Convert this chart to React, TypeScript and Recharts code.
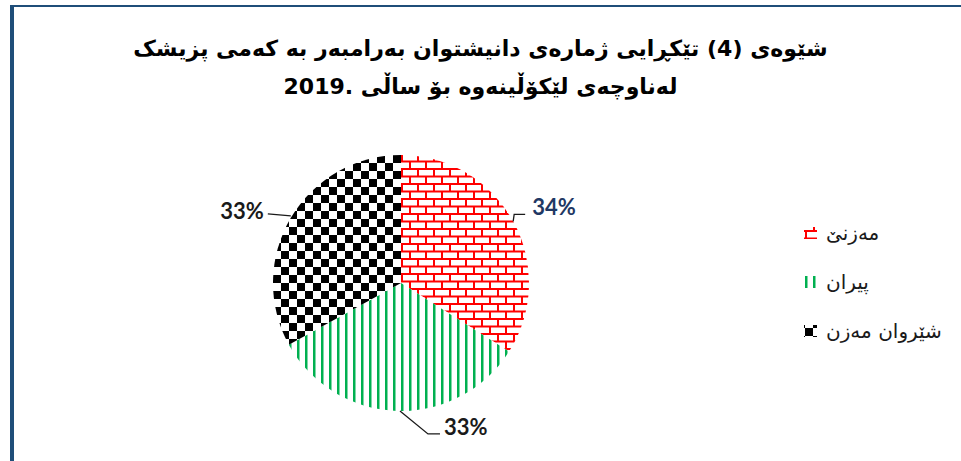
import React from 'react';
import { PieChart, Pie, Cell, Legend } from 'recharts';

const categories = ['مەزنێ', 'پیران', 'شێروان مەزن'];
const values = [34, 33, 33];
const titleLines = [
  'شێوەی (4) تێکڕایی ژمارەی دانیشتوان بەرامبەر بە کەمی پزیشک',
  'لەناوچەی لێکۆڵینەوە بۆ ساڵی \u20662019.\u2069',
];

const patternIds = ['pat-brick', 'pat-vert', 'pat-check'];
const labelColors = ['#1F3864', '#1a1a1a', '#1a1a1a'];

const data = categories.map((name, i) => ({ name, value: values[i] }));

const RAD = Math.PI / 180;

// leader-line layout per slice (relative to the slice's outer edge point)
const leaderLayout = [
  { pts: [[0, 0], [1, -7], [12, -7]], tx: 19, ty: -15, anchor: 'start' },
  { pts: [[3, 0], [31, 23], [43, 23]], tx: 47, ty: 16, anchor: 'start' },
  { pts: [[0, -2], [-23, -4]], tx: -27, ty: -7, anchor: 'end' },
];

const renderLabel = (props: any) => {
  const { cx, cy, midAngle, outerRadius, index, value } = props;
  const ex = cx + outerRadius * Math.cos(-midAngle * RAD);
  const ey = cy + outerRadius * Math.sin(-midAngle * RAD);
  const L = leaderLayout[index];
  const points = L.pts.map(([dx, dy]) => `${ex + dx},${ey + dy}`).join(' ');
  return (
    <g key={`lbl-${index}`}>
      <polyline points={points} fill="none" stroke="#1a1a1a" strokeWidth={1.3} />
      <text
        x={ex + L.tx}
        y={ey + L.ty}
        textAnchor={L.anchor}
        dominantBaseline="central"
        fill={labelColors[index]}
        style={{ fontFamily: 'Lato, "Open Sans", sans-serif', fontWeight: 700, fontSize: 22 }}
      >
        {`${value}%`}
      </text>
    </g>
  );
};

const renderLegend = () => (
  <div style={{ display: 'flex', flexDirection: 'column' }}>
    {categories.map((c, i) => (
      <div key={c} style={{ display: 'flex', alignItems: 'center', height: 49 }}>
        <svg width={13} height={12} style={{ display: 'block' }}>
          <rect x={0} y={0} width={13} height={12} fill={`url(#${patternIds[i]})`} />
        </svg>
        <span
          style={{
            marginLeft: 9,
            fontSize: 20,
            fontFamily: '"DejaVu Sans", sans-serif',
            color: '#1a1a1a',
            direction: 'rtl',
          }}
        >
          {c}
        </span>
      </div>
    ))}
  </div>
);

export default function App() {
  return (
    <div style={{ position: 'absolute', left: 0, top: 0, width: 961, height: 461, background: '#fff', overflow: 'hidden' }}>
      <div
        style={{
          position: 'absolute',
          left: 10,
          top: 5,
          width: 960,
          height: 470,
          borderTop: '2px solid #1F4E79',
          borderLeft: '4px solid #1F4E79',
          boxSizing: 'border-box',
        }}
      />
      <div
        style={{
          position: 'absolute',
          left: 0,
          top: 30,
          width: 961,
          textAlign: 'center',
          direction: 'rtl',
          fontFamily: '"DejaVu Sans", sans-serif',
          fontWeight: 700,
          fontSize: 22,
          lineHeight: '38px',
          color: '#000',
        }}
      >
        {titleLines.map((t) => (
          <div key={t}>{t}</div>
        ))}
      </div>
      <div style={{ position: 'absolute', left: 0, top: 0 }}>
        <PieChart width={961} height={461} margin={{ top: 0, right: 0, bottom: 0, left: 0 }}>
          <defs>
            <pattern id="pat-brick" patternUnits="userSpaceOnUse" width={16} height={15} x={1} y={3}>
              <rect x={0} y={0} width={16} height={15} fill="#fff" />
              <line x1={0} y1={1} x2={16} y2={1} stroke="#FF0000" strokeWidth={2} />
              <line x1={0} y1={8.5} x2={16} y2={8.5} stroke="#FF0000" strokeWidth={2} />
              <line x1={1} y1={1} x2={1} y2={8.5} stroke="#FF0000" strokeWidth={2} />
              <line x1={9} y1={8.5} x2={9} y2={15} stroke="#FF0000" strokeWidth={2} />
            </pattern>
            <pattern id="pat-vert" patternUnits="userSpaceOnUse" width={8} height={8} x={0} y={0}>
              <rect x={0} y={0} width={8} height={8} fill="#fff" />
              <rect x={1} y={0} width={2.5} height={8} fill="#00B050" />
            </pattern>
            <pattern id="pat-check" patternUnits="userSpaceOnUse" width={16} height={16} x={1} y={3}>
              <rect x={0} y={0} width={16} height={16} fill="#fff" />
              <rect x={0} y={0} width={8} height={8} fill="#000" />
              <rect x={8} y={8} width={8} height={8} fill="#000" />
            </pattern>
          </defs>
          <Pie
            data={data}
            dataKey="value"
            nameKey="name"
            cx={401}
            cy={283}
            outerRadius={128}
            startAngle={90}
            endAngle={-270}
            stroke="none"
            label={renderLabel}
            labelLine={false}
            isAnimationActive={false}
          >
            {data.map((d, i) => (
              <Cell key={d.name} fill={`url(#${patternIds[i]})`} stroke="none" />
            ))}
          </Pie>
          <Legend
            layout="vertical"
            align="right"
            verticalAlign="middle"
            content={renderLegend}
            wrapperStyle={{ position: 'absolute', left: 804, top: 208, width: 150, height: 150 }}
          />
        </PieChart>
      </div>
    </div>
  );
}
